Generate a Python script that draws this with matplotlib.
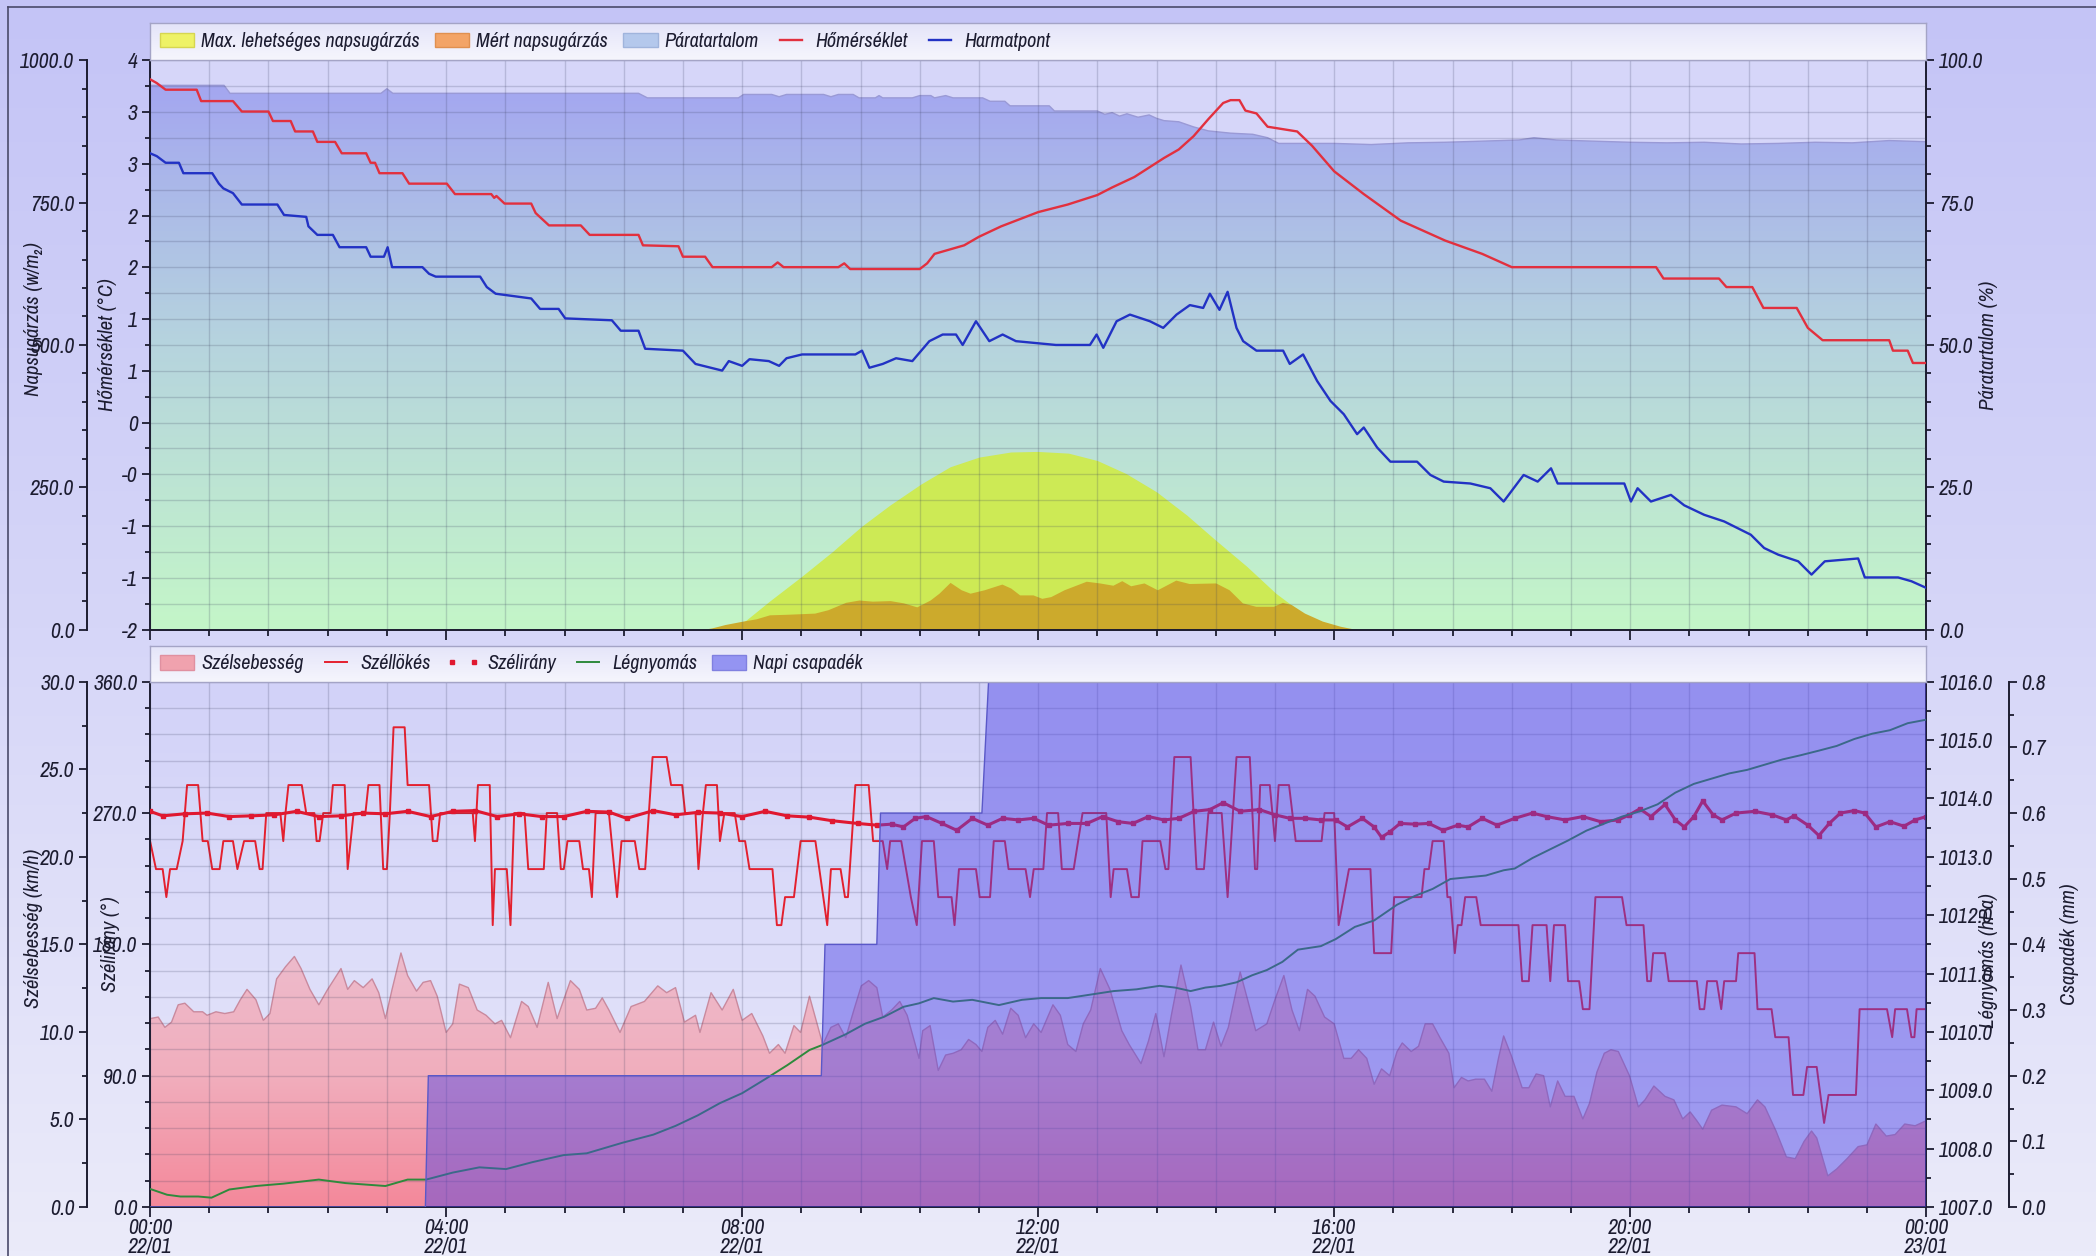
import numpy as np
import matplotlib
matplotlib.use('Agg')
import matplotlib.pyplot as plt
from matplotlib import font_manager
from matplotlib.colors import LinearSegmentedColormap
from matplotlib.lines import Line2D
from matplotlib.patches import Patch
from matplotlib.ticker import FixedLocator, FixedFormatter, MultipleLocator, FormatStrFormatter

# ---------------- data (time = hours since 22/01 00:00) ----------------
temp_pts = [(0.0, 3.80), (0.09, 3.76), (0.21, 3.69), (0.63, 3.69), (0.69, 3.57), (1.12, 3.57), (1.24, 3.46),
            (1.60, 3.46), (1.66, 3.36), (1.90, 3.36), (1.96, 3.25), (2.20, 3.25), (2.26, 3.14), (2.50, 3.14),
            (2.59, 3.02), (2.92, 3.02), (2.98, 2.92), (3.04, 2.92), (3.10, 2.81), (3.41, 2.81), (3.50, 2.70),
            (4.01, 2.70), (4.12, 2.59), (4.61, 2.59), (4.65, 2.55), (4.68, 2.57), (4.79, 2.49), (5.15, 2.49),
            (5.21, 2.39), (5.39, 2.26), (5.82, 2.26), (5.94, 2.16), (6.60, 2.16), (6.66, 2.05), (7.14, 2.04),
            (7.20, 1.93), (7.50, 1.93), (7.60, 1.82), (8.40, 1.82), (8.48, 1.87), (8.56, 1.82), (9.30, 1.82),
            (9.38, 1.86), (9.46, 1.80), (10.40, 1.80), (10.50, 1.86), (10.60, 1.96), (11.00, 2.05), (11.20, 2.14),
            (11.50, 2.25), (11.70, 2.31), (12.00, 2.40), (12.40, 2.48), (12.80, 2.58), (13.00, 2.66), (13.30, 2.77),
            (13.50, 2.87), (13.70, 2.97), (13.90, 3.06), (14.10, 3.20), (14.30, 3.38), (14.50, 3.55), (14.60, 3.58),
            (14.72, 3.58), (14.80, 3.47), (14.95, 3.44), (15.10, 3.30), (15.50, 3.25), (15.70, 3.10), (16.00, 2.83),
            (16.40, 2.59), (16.90, 2.31), (17.50, 2.10), (18.00, 1.96), (18.40, 1.82), (20.35, 1.82), (20.45, 1.70),
            (21.20, 1.70), (21.30, 1.61), (21.65, 1.61), (21.80, 1.39), (22.25, 1.39), (22.40, 1.18), (22.60, 1.05),
            (23.50, 1.05), (23.55, 0.94), (23.75, 0.94), (23.82, 0.81), (24.0, 0.81)]

dew_pts = [(0.0, 3.02), (0.09, 2.99), (0.21, 2.92), (0.39, 2.92), (0.45, 2.81), (0.84, 2.81), (0.93, 2.70),
           (0.99, 2.65), (1.12, 2.60), (1.24, 2.48), (1.72, 2.48), (1.81, 2.37), (2.11, 2.35), (2.14, 2.25),
           (2.26, 2.16), (2.47, 2.16), (2.56, 2.03), (2.92, 2.03), (2.98, 1.93), (3.16, 1.93), (3.21, 2.03),
           (3.27, 1.82), (3.68, 1.82), (3.77, 1.75), (3.86, 1.72), (4.46, 1.72), (4.55, 1.61), (4.67, 1.54),
           (5.15, 1.49), (5.27, 1.38), (5.52, 1.38), (5.61, 1.28), (6.24, 1.26), (6.36, 1.15), (6.60, 1.15),
           (6.69, 0.96), (7.20, 0.94), (7.37, 0.80), (7.73, 0.73), (7.82, 0.83), (8.0, 0.78), (8.1, 0.85),
           (8.36, 0.83), (8.5, 0.78), (8.6, 0.86), (8.81, 0.90), (9.53, 0.90), (9.62, 0.94), (9.72, 0.76),
           (9.9, 0.80), (10.08, 0.86), (10.3, 0.83), (10.53, 1.04), (10.71, 1.11), (10.89, 1.11), (10.98, 1.00),
           (11.16, 1.25), (11.34, 1.04), (11.52, 1.11), (11.70, 1.04), (12.24, 1.00), (12.70, 1.00), (12.79, 1.11),
           (12.88, 0.97), (13.06, 1.25), (13.24, 1.32), (13.51, 1.25), (13.69, 1.18), (13.87, 1.32), (14.05, 1.42),
           (14.23, 1.39), (14.32, 1.54), (14.45, 1.37), (14.56, 1.56), (14.68, 1.18), (14.77, 1.04), (14.95, 0.94),
           (15.31, 0.94), (15.40, 0.80), (15.58, 0.90), (15.77, 0.62), (15.95, 0.41), (16.13, 0.27), (16.31, 0.06),
           (16.40, 0.13), (16.58, -0.08), (16.76, -0.23), (17.12, -0.23), (17.30, -0.37), (17.48, -0.44),
           (17.84, -0.46), (18.11, -0.51), (18.29, -0.65), (18.56, -0.37), (18.75, -0.44), (18.93, -0.30),
           (19.02, -0.46), (19.92, -0.46), (20.01, -0.65), (20.10, -0.51), (20.28, -0.65), (20.55, -0.58),
           (20.73, -0.69), (21.00, -0.79), (21.27, -0.86), (21.63, -1.00), (21.81, -1.14), (22.00, -1.21),
           (22.27, -1.28), (22.45, -1.42), (22.63, -1.28), (23.08, -1.25), (23.17, -1.45), (23.62, -1.45),
           (23.80, -1.49), (24.0, -1.56)]

humidity_pts = [(0.0, 95.6), (1.0, 95.6), (1.08, 94.2), (3.12, 94.2), (3.2, 95.0), (3.28, 94.2), (6.6, 94.2),
                (6.72, 93.4), (7.95, 93.4), (8.02, 94.0), (8.4, 94.0), (8.5, 93.6), (8.6, 94.0), (9.1, 94.0),
                (9.2, 93.6), (9.3, 94.0), (9.5, 94.0), (9.58, 93.4), (9.8, 93.4), (9.85, 93.8), (9.9, 93.4),
                (10.3, 93.4), (10.4, 93.8), (10.55, 93.8), (10.6, 93.4), (10.75, 93.8), (10.85, 93.4), (11.25, 93.4),
                (11.35, 92.8), (11.55, 92.8), (11.62, 92.0), (12.15, 92.0), (12.22, 91.1), (12.8, 91.1), (12.9, 90.5),
                (13.0, 90.8), (13.1, 90.2), (13.2, 90.6), (13.35, 90.0), (13.5, 90.4), (13.6, 89.8), (13.7, 89.4),
                (13.9, 89.2), (14.1, 88.3), (14.3, 87.6), (14.6, 87.2), (14.9, 87.0), (15.1, 86.4), (15.25, 85.4),
                (16.0, 85.4), (16.5, 85.2), (17.0, 85.5), (17.5, 85.6), (18.0, 85.8), (18.5, 86.0), (18.7, 86.4),
                (19.0, 86.0), (19.5, 85.8), (20.0, 85.6), (20.5, 85.5), (21.0, 85.6), (21.5, 85.3), (22.0, 85.4),
                (22.5, 85.6), (23.0, 85.5), (23.5, 85.9), (24.0, 85.7)]

rad_max_pts = [(7.50, 0), (7.59, 2), (8.01, 12), (8.37, 50), (8.80, 93), (9.22, 137), (9.61, 181), (10.0, 219),
               (10.42, 256), (10.81, 286), (11.20, 303), (11.63, 312), (11.99, 313), (12.41, 310), (12.80, 297),
               (13.19, 274), (13.60, 242), (14.01, 201), (14.40, 157), (14.82, 111), (15.21, 64), (15.60, 26),
               (15.84, 9), (16.05, 1), (16.10, 0)]

rad_meas_pts = [(7.45, 0), (7.59, 3), (7.77, 9), (8.01, 15), (8.19, 19), (8.37, 26), (8.61, 27), (8.98, 29),
                (9.16, 35), (9.40, 48), (9.58, 52), (9.76, 50), (10.0, 51), (10.18, 47), (10.36, 40), (10.54, 52),
                (10.66, 64), (10.81, 83), (10.96, 70), (11.08, 64), (11.27, 70), (11.51, 80), (11.63, 73),
                (11.75, 61), (11.93, 61), (12.05, 55), (12.17, 58), (12.35, 70), (12.65, 85), (12.83, 82),
                (13.01, 78), (13.13, 86), (13.25, 77), (13.43, 82), (13.61, 70), (13.86, 87), (14.04, 81),
                (14.40, 82), (14.58, 70), (14.76, 47), (14.94, 41), (15.18, 41), (15.30, 48), (15.42, 44),
                (15.60, 29), (15.84, 15), (16.08, 6), (16.27, 1), (16.35, 0)]

wind_pts = [(0.0, 10.76), (0.11, 10.85), (0.20, 10.26), (0.29, 10.56), (0.38, 11.55), (0.47, 11.64), (0.59, 11.15),
            (0.71, 11.15), (0.77, 10.95), (0.89, 11.15), (1.01, 11.05), (1.13, 11.15), (1.22, 11.84), (1.31, 12.43),
            (1.43, 11.84), (1.53, 10.66), (1.62, 11.05), (1.71, 13.03), (1.83, 13.72), (1.95, 14.31), (2.04, 13.62),
            (2.16, 12.43), (2.28, 11.55), (2.40, 12.43), (2.58, 13.62), (2.67, 12.43), (2.76, 12.93), (2.88, 12.53),
            (3.00, 13.03), (3.09, 12.24), (3.18, 10.76), (3.27, 12.43), (3.39, 14.51), (3.48, 13.22), (3.60, 12.33),
            (3.69, 12.83), (3.79, 12.93), (3.88, 12.04), (4.00, 9.97), (4.09, 10.46), (4.18, 12.73), (4.30, 12.53),
            (4.42, 11.25), (4.54, 10.95), (4.66, 10.46), (4.75, 10.66), (4.87, 9.67), (5.02, 11.74), (5.11, 11.45),
            (5.23, 10.26), (5.38, 12.83), (5.50, 10.76), (5.68, 12.93), (5.80, 12.43), (5.90, 11.25), (6.02, 11.35),
            (6.11, 11.94), (6.20, 11.25), (6.35, 9.97), (6.50, 11.45), (6.68, 11.74), (6.86, 12.63), (6.98, 12.24),
            (7.10, 12.53), (7.22, 10.56), (7.37, 10.95), (7.43, 9.97), (7.58, 12.24), (7.73, 11.25), (7.88, 12.43),
            (8.00, 10.66), (8.13, 11.05), (8.28, 9.77), (8.37, 8.78), (8.49, 9.28), (8.58, 8.78), (8.70, 10.36),
            (8.79, 9.97), (8.91, 12.04), (9.09, 9.28), (9.20, 10.26), (9.30, 10.46), (9.40, 9.67), (9.51, 11.25),
            (9.61, 12.63), (9.71, 12.93), (9.82, 12.53), (9.90, 10.85), (10.02, 11.25), (10.13, 11.74),
            (10.23, 10.95), (10.34, 9.28), (10.39, 8.49), (10.44, 10.07), (10.54, 10.36), (10.65, 7.80),
            (10.75, 8.68), (10.85, 8.78), (10.96, 8.98), (11.06, 9.57), (11.16, 9.28), (11.24, 8.88), (11.32, 10.26),
            (11.42, 10.66), (11.52, 9.87), (11.63, 11.35), (11.73, 10.95), (11.83, 9.67), (11.94, 10.46),
            (12.04, 9.97), (12.20, 11.55), (12.30, 10.95), (12.40, 9.28), (12.51, 8.88), (12.61, 10.46),
            (12.71, 11.25), (12.84, 13.62), (12.97, 12.43), (13.13, 10.07), (13.23, 9.28), (13.39, 8.19),
            (13.49, 9.47), (13.59, 11.05), (13.70, 8.58), (13.80, 10.95), (13.93, 13.82), (14.06, 11.45),
            (14.16, 8.98), (14.26, 8.98), (14.37, 10.56), (14.47, 9.18), (14.57, 10.26), (14.73, 13.42),
            (14.83, 11.84), (14.94, 10.07), (15.09, 10.46), (15.20, 11.84), (15.32, 13.22), (15.43, 11.25),
            (15.53, 10.07), (15.64, 12.43), (15.74, 12.04), (15.87, 10.85), (16.00, 10.46), (16.13, 8.49),
            (16.23, 8.49), (16.33, 8.98), (16.44, 8.49), (16.54, 7.01), (16.64, 7.89), (16.75, 7.50), (16.85, 8.88),
            (16.92, 9.37), (17.04, 8.88), (17.14, 9.18), (17.23, 10.46), (17.33, 10.46), (17.43, 9.67),
            (17.55, 8.78), (17.62, 6.81), (17.72, 7.40), (17.81, 7.20), (17.91, 7.30), (18.03, 7.30), (18.13, 6.61),
            (18.22, 8.49), (18.29, 9.77), (18.39, 8.68), (18.54, 6.81), (18.63, 6.81), (18.73, 7.60), (18.83, 7.50),
            (18.92, 5.72), (19.02, 7.20), (19.12, 6.32), (19.24, 6.32), (19.36, 5.03), (19.45, 5.92), (19.55, 7.70),
            (19.65, 8.78), (19.74, 8.98), (19.84, 8.88), (19.99, 7.50), (20.11, 5.72), (20.20, 6.12), (20.32, 6.91),
            (20.47, 6.32), (20.59, 6.12), (20.71, 5.03), (20.81, 5.43), (20.90, 4.93), (20.98, 4.44), (21.10, 5.53),
            (21.24, 5.82), (21.43, 5.72), (21.58, 5.33), (21.72, 6.12), (21.82, 5.72), (21.97, 4.34), (22.11, 2.86),
            (22.23, 2.76), (22.35, 3.75), (22.45, 4.34), (22.52, 3.95), (22.67, 1.78), (22.79, 2.17), (22.93, 2.76),
            (23.08, 3.45), (23.20, 3.55), (23.32, 4.74), (23.46, 4.05), (23.58, 4.14), (23.71, 4.74), (23.85, 4.64),
            (24.0, 4.93)]

gust_pts = [(0.0, 20.9), (0.08, 19.3), (0.17, 19.3), (0.22, 17.7), (0.27, 19.3), (0.36, 19.3), (0.44, 20.9),
            (0.50, 24.1), (0.65, 24.1), (0.71, 20.9), (0.78, 20.9), (0.84, 19.3), (0.94, 19.3), (0.99, 20.9),
            (1.12, 20.9), (1.18, 19.3), (1.27, 20.9), (1.42, 20.9), (1.48, 19.3), (1.52, 19.3), (1.57, 22.5),
            (1.76, 22.5), (1.80, 20.9), (1.83, 22.5), (1.87, 24.1), (2.05, 24.1), (2.11, 22.5), (2.22, 22.5),
            (2.25, 20.9), (2.29, 20.9), (2.34, 22.5), (2.44, 22.5), (2.47, 24.1), (2.63, 24.1), (2.67, 19.3),
            (2.75, 22.5), (2.91, 22.5), (2.95, 24.1), (3.10, 24.1), (3.15, 19.3), (3.20, 19.3), (3.24, 22.5),
            (3.29, 27.4), (3.44, 27.4), (3.48, 24.1), (3.77, 24.1), (3.82, 20.9), (3.88, 20.9), (3.92, 22.5),
            (4.36, 22.5), (4.39, 20.9), (4.43, 24.1), (4.59, 24.1), (4.63, 16.1), (4.66, 19.3), (4.82, 19.3),
            (4.87, 16.1), (4.92, 22.5), (5.06, 22.5), (5.11, 19.3), (5.32, 19.3), (5.36, 22.5), (5.50, 22.5),
            (5.55, 19.3), (5.59, 19.3), (5.64, 20.9), (5.80, 20.9), (5.85, 19.3), (5.93, 19.3), (5.97, 17.7),
            (6.02, 22.5), (6.20, 22.5), (6.31, 17.7), (6.37, 20.9), (6.55, 20.9), (6.61, 19.3), (6.69, 19.3),
            (6.74, 22.5), (6.79, 25.7), (6.98, 25.7), (7.04, 24.1), (7.19, 24.1), (7.23, 22.5), (7.37, 22.5),
            (7.41, 19.3), (7.47, 22.5), (7.51, 24.1), (7.66, 24.1), (7.70, 20.9), (7.76, 22.5), (7.90, 22.5),
            (7.96, 20.9), (8.04, 20.9), (8.10, 19.3), (8.41, 19.3), (8.47, 16.1), (8.53, 16.1), (8.58, 17.7),
            (8.70, 17.7), (8.79, 20.9), (8.99, 20.9), (9.15, 16.1), (9.20, 19.3), (9.33, 19.3), (9.39, 17.7),
            (9.43, 17.7), (9.53, 24.1), (9.71, 24.1), (9.77, 20.9), (9.90, 20.9), (9.96, 19.3), (10.00, 20.9),
            (10.15, 20.9), (10.28, 17.7), (10.36, 16.1), (10.43, 20.9), (10.59, 20.9), (10.65, 17.7), (10.83, 17.7),
            (10.87, 16.1), (10.93, 19.3), (11.16, 19.3), (11.21, 17.7), (11.35, 17.7), (11.40, 20.9), (11.55, 20.9),
            (11.60, 19.3), (11.83, 19.3), (11.89, 17.7), (11.94, 19.3), (12.07, 19.3), (12.12, 22.5), (12.27, 22.5),
            (12.32, 19.3), (12.48, 19.3), (12.60, 22.5), (12.92, 22.5), (12.98, 17.7), (13.02, 19.3), (13.20, 19.3),
            (13.26, 17.7), (13.36, 17.7), (13.41, 20.9), (13.65, 20.9), (13.72, 19.3), (13.76, 19.3), (13.84, 25.7),
            (14.06, 25.7), (14.14, 19.3), (14.24, 19.3), (14.30, 22.5), (14.48, 22.5), (14.56, 17.7), (14.68, 25.7),
            (14.86, 25.7), (14.93, 19.3), (14.96, 19.3), (15.00, 24.1), (15.13, 24.1), (15.20, 20.9), (15.25, 24.1),
            (15.39, 24.1), (15.48, 20.9), (15.83, 20.9), (15.87, 22.5), (16.00, 22.5), (16.06, 16.1), (16.20, 19.3),
            (16.49, 19.3), (16.54, 14.5), (16.77, 14.5), (16.81, 17.7), (17.18, 17.7), (17.22, 19.3), (17.28, 19.3),
            (17.33, 20.9), (17.48, 20.9), (17.53, 17.7), (17.57, 17.7), (17.63, 14.5), (17.67, 16.1), (17.72, 16.1),
            (17.77, 17.7), (17.92, 17.7), (17.98, 16.1), (18.49, 16.1), (18.54, 12.9), (18.63, 12.9), (18.68, 16.1),
            (18.87, 16.1), (18.92, 12.9), (18.97, 16.1), (19.12, 16.1), (19.16, 12.9), (19.31, 12.9), (19.36, 11.3),
            (19.45, 11.3), (19.53, 17.7), (19.89, 17.7), (19.95, 16.1), (20.18, 16.1), (20.23, 12.9), (20.28, 12.9),
            (20.31, 14.5), (20.47, 14.5), (20.52, 12.9), (20.90, 12.9), (20.94, 11.3), (21.00, 11.3), (21.04, 12.9),
            (21.17, 12.9), (21.23, 11.3), (21.27, 12.9), (21.43, 12.9), (21.46, 14.5), (21.68, 14.5), (21.72, 11.3),
            (21.91, 11.3), (21.96, 9.7), (22.14, 9.7), (22.20, 6.4), (22.34, 6.4), (22.39, 8.0), (22.52, 8.0),
            (22.62, 4.8), (22.68, 6.4), (23.05, 6.4), (23.10, 11.3), (23.47, 11.3), (23.54, 9.7), (23.58, 11.3),
            (23.74, 11.3), (23.80, 9.7), (23.84, 9.7), (23.87, 11.3), (24.0, 11.3)]

direction_pts = [(0.0, 271.2), (0.17, 268.1), (0.47, 269.5), (0.77, 270.0), (1.07, 267.6), (1.37, 268.1),
                 (1.68, 268.8), (1.98, 271.2), (2.28, 267.6), (2.58, 268.1), (2.88, 270.0), (3.18, 269.5),
                 (3.48, 271.2), (3.79, 267.6), (4.09, 271.2), (4.39, 271.7), (4.69, 267.6), (4.99, 269.5),
                 (5.29, 267.6), (5.59, 267.6), (5.90, 271.2), (6.20, 270.7), (6.44, 266.4), (6.80, 271.7),
                 (7.10, 268.8), (7.40, 270.5), (7.70, 270.0), (8.00, 267.6), (8.31, 271.2), (8.61, 268.1),
                 (8.91, 267.2), (9.21, 264.8), (9.56, 262.9), (9.82, 261.7), (10.02, 262.4), (10.18, 260.5),
                 (10.34, 266.4), (10.49, 267.6), (10.70, 262.9), (10.90, 258.2), (11.11, 266.4), (11.32, 261.7),
                 (11.52, 266.4), (11.73, 265.3), (11.94, 266.4), (12.14, 261.7), (12.40, 262.9), (12.66, 262.9),
                 (12.87, 267.6), (13.08, 264.1), (13.28, 262.9), (13.49, 267.6), (13.70, 265.3), (13.90, 266.4),
                 (14.11, 271.2), (14.32, 272.4), (14.50, 277.1), (14.73, 271.2), (14.99, 272.4), (15.20, 268.8),
                 (15.40, 266.4), (15.61, 266.4), (15.82, 265.3), (16.02, 265.3), (16.18, 260.5), (16.38, 266.4),
                 (16.54, 260.5), (16.64, 253.4), (16.75, 257.0), (16.89, 262.9), (17.09, 262.4), (17.28, 262.9),
                 (17.47, 258.2), (17.67, 261.7), (17.81, 260.5), (18.00, 266.4), (18.20, 261.7), (18.44, 266.4),
                 (18.68, 270.0), (18.87, 267.6), (19.12, 265.3), (19.36, 267.6), (19.60, 264.1), (19.84, 265.3),
                 (19.99, 268.8), (20.13, 272.9), (20.28, 267.6), (20.47, 275.9), (20.61, 265.3), (20.73, 260.5),
                 (20.86, 267.6), (20.98, 278.3), (21.12, 268.8), (21.24, 265.3), (21.43, 270.0), (21.68, 271.2),
                 (21.92, 268.8), (22.11, 265.3), (22.21, 268.1), (22.40, 261.7), (22.55, 254.6), (22.69, 262.9),
                 (22.84, 270.0), (23.03, 271.7), (23.17, 270.0), (23.32, 260.5), (23.51, 264.1), (23.70, 261.0),
                 (23.85, 265.3), (24.0, 267.6)]

pressure_pts = [(0.0, 1007.31), (0.23, 1007.21), (0.41, 1007.18), (0.65, 1007.18), (0.83, 1007.16), (1.07, 1007.30),
                (1.43, 1007.36), (1.80, 1007.40), (2.28, 1007.47), (2.64, 1007.41), (3.18, 1007.36), (3.48, 1007.47),
                (3.73, 1007.47), (4.09, 1007.59), (4.45, 1007.68), (4.81, 1007.65), (5.17, 1007.77), (5.59, 1007.89),
                (5.90, 1007.92), (6.38, 1008.10), (6.80, 1008.24), (7.10, 1008.39), (7.40, 1008.57), (7.70, 1008.78),
                (8.00, 1008.95), (8.31, 1009.19), (8.61, 1009.43), (8.91, 1009.69), (9.09, 1009.78), (9.40, 1009.96),
                (9.66, 1010.14), (9.92, 1010.26), (10.18, 1010.43), (10.39, 1010.49), (10.59, 1010.58),
                (10.85, 1010.52), (11.11, 1010.55), (11.47, 1010.46), (11.78, 1010.55), (12.04, 1010.58),
                (12.40, 1010.58), (12.71, 1010.64), (13.02, 1010.70), (13.33, 1010.73), (13.64, 1010.79),
                (13.85, 1010.76), (14.06, 1010.70), (14.26, 1010.76), (14.47, 1010.79), (14.68, 1010.85),
                (14.89, 1010.97), (15.09, 1011.06), (15.30, 1011.20), (15.51, 1011.41), (15.82, 1011.47),
                (16.02, 1011.59), (16.28, 1011.80), (16.54, 1011.91), (16.85, 1012.18), (17.09, 1012.33),
                (17.33, 1012.45), (17.57, 1012.62), (17.81, 1012.65), (18.05, 1012.68), (18.29, 1012.77),
                (18.44, 1012.80), (18.68, 1012.98), (18.92, 1013.13), (19.16, 1013.28), (19.41, 1013.45),
                (19.65, 1013.57), (19.89, 1013.69), (20.13, 1013.78), (20.37, 1013.90), (20.61, 1014.10),
                (20.86, 1014.25), (21.10, 1014.34), (21.34, 1014.43), (21.58, 1014.49), (21.82, 1014.58),
                (22.06, 1014.67), (22.30, 1014.74), (22.55, 1014.82), (22.79, 1014.90), (23.03, 1015.02),
                (23.27, 1015.11), (23.51, 1015.17), (23.75, 1015.29), (24.0, 1015.35)]

precip_pts = [(0.0, 0.0), (3.72, 0.0), (3.76, 0.2), (9.07, 0.2), (9.12, 0.4), (9.82, 0.4), (9.87, 0.6),
              (11.24, 0.6), (11.33, 0.8), (24.0, 0.8)]

temp_tick_labels = ['-2', '-1', '-1', '-0', '0', '1', '1', '2', '2', '3', '3', '4']
x_ticks = [0, 4, 8, 12, 16, 20, 24]
x_tick_labels = ['00:00\n22/01', '04:00\n22/01', '08:00\n22/01', '12:00\n22/01',
                 '16:00\n22/01', '20:00\n22/01', '00:00\n23/01']

legend_top = ['Max. lehetséges napsugárzás', 'Mért napsugárzás', 'Páratartalom', 'Hőmérséklet', 'Harmatpont']
legend_bot = ['Szélsebesség', 'Széllökés', 'Szélirány', 'Légnyomás', 'Napi csapadék']


def xy(pts):
    a = np.array(pts, dtype=float)
    return a[:, 0], a[:, 1]


# ---------------- style ----------------
names = {f.name for f in font_manager.fontManager.ttflist}
fam = next((n for n in ['Liberation Sans Narrow', 'Archivo Narrow', 'Roboto Condensed', 'Asap Condensed']
            if n in names), 'Liberation Sans')
plt.rcParams['font.family'] = [fam, 'DejaVu Sans']
plt.rcParams['font.style'] = 'italic'
ink = '#1c1c30'
grid_kw = dict(color='#3a3e5e', alpha=0.2, lw=1.0)


def grad_fill(ax, x, y, cols, lo, hi, z=1.0, alpha=1.0, edge=None):
    poly = ax.fill_between(x, y, 0, facecolor='none', edgecolor='none', zorder=z)
    cmap = LinearSegmentedColormap.from_list('g', cols)
    im = ax.imshow(np.linspace(0, 1, 256).reshape(-1, 1), cmap=cmap, origin='lower', aspect='auto',
                   extent=[x.min(), x.max(), lo, hi], alpha=alpha, zorder=z, interpolation='bilinear')
    im.set_clip_path(poly.get_paths()[0], transform=ax.transData)
    if edge:
        ax.plot(x, y, color=edge, lw=1.0, zorder=z + 0.1)


def style_y(ax, major, minor, fmt):
    ax.yaxis.set_major_locator(MultipleLocator(major))
    ax.yaxis.set_minor_locator(MultipleLocator(minor))
    ax.yaxis.set_major_formatter(FormatStrFormatter(fmt))
    ax.tick_params(axis='y', which='both', direction='out', colors=ink, labelsize=15.5, width=1.3, pad=3)
    ax.tick_params(axis='y', which='major', length=6)
    ax.tick_params(axis='y', which='minor', length=3.5)


def style_x(ax, labels):
    ax.set_xlim(0, 24)
    ax.xaxis.set_major_locator(FixedLocator(x_ticks))
    ax.xaxis.set_minor_locator(MultipleLocator(0.8))
    ax.tick_params(axis='x', which='both', direction='out', colors=ink, width=1.3, labelsize=15.5, pad=1)
    ax.tick_params(axis='x', which='major', length=7)
    ax.tick_params(axis='x', which='minor', length=4)
    if labels:
        ax.xaxis.set_major_formatter(FixedFormatter(x_tick_labels))
        for lab in ax.get_xticklabels():
            lab.set_linespacing(0.92)
    else:
        ax.tick_params(axis='x', labelbottom=False)


def only_spine(ax, which):
    for s in ax.spines:
        ax.spines[s].set_visible(s in which)
        ax.spines[s].set_color(ink)
        ax.spines[s].set_linewidth(1.4)


def set_ylabel(ax, text, x, y):
    ax.set_ylabel(text, fontsize=15, color=ink)
    ax.yaxis.set_label_coords(x, y)
    ax.yaxis.label.set_va('center')
    ax.yaxis.label.set_ha('center')


fig = plt.figure(figsize=(20.96, 12.56), dpi=100)

# figure background gradient
bg = fig.add_axes([0, 0, 1, 1], zorder=-10)
bg.axis('off')
bg.imshow(np.linspace(0, 1, 256).reshape(-1, 1), origin='lower', aspect='auto', extent=[0, 1, 0, 1],
          cmap=LinearSegmentedColormap.from_list('bg', ['#ebebfa', '#d6d6f8', '#c4c4f6']))
bg.set_xlim(0, 1)
bg.set_ylim(0, 1)
fig.add_artist(Line2D([0.004, 0.004], [0.0, 0.9942], transform=fig.transFigure, color='#4a4a6a', lw=1.2))
fig.add_artist(Line2D([0.004, 1.0], [0.9942, 0.9942], transform=fig.transFigure, color='#4a4a6a', lw=1.2))

L, W = 0.0716, 0.8474
rect_top = [L, 0.4987, W, 0.4533]
rect_bot = [L, 0.0390, W, 0.4182]

# ---------------- top panel ----------------
ax_t = fig.add_axes(rect_top)
ax_rh = ax_t.twinx()
ax_rad = ax_t.twinx()
ax_rh.set_zorder(1)
ax_rad.set_zorder(2)
ax_t.set_zorder(3)
ax_t.patch.set_visible(False)
ax_rh.patch.set_visible(True)
ax_rh.set_facecolor('#d6d6f9')

t, v = xy(humidity_pts)
grad_fill(ax_rh, t, v, ['#c4f6c8', '#b6d4de', '#a2a2f2'], 0, 100, z=1, edge='#9a9ad6')
ax_rh.set_ylim(0, 100)
style_y(ax_rh, 25, 5, '%.1f')
only_spine(ax_rh, ['right'])
set_ylabel(ax_rh, 'Páratartalom (%)', 1.035, 0.5)

t, v = xy(rad_max_pts)
ax_rad.fill_between(t, v, 0, color='#cdea55', lw=0, zorder=2)
t, v = xy(rad_meas_pts)
ax_rad.fill_between(t, v, 0, color='#ccaa2c', lw=0, zorder=3)
ax_rad.set_ylim(0, 1000)
ax_rad.yaxis.tick_left()
ax_rad.yaxis.set_label_position('left')
style_y(ax_rad, 250, 50, '%.1f')
only_spine(ax_rad, ['left'])
ax_rad.spines['left'].set_position(('axes', -0.0355))
set_ylabel(ax_rad, 'Napsugárzás (w/m₂)', -0.0659, 0.545)

t, v = xy(temp_pts)
ax_t.plot(t, v, color='#e2303e', lw=1.7, zorder=4)
t, v = xy(dew_pts)
ax_t.plot(t, v, color='#2232c4', lw=1.7, zorder=4)
ax_t.set_ylim(-2, 4)
ax_t.yaxis.set_major_locator(FixedLocator(np.linspace(-2, 4, 12)))
ax_t.yaxis.set_major_formatter(FixedFormatter(temp_tick_labels))
ax_t.yaxis.set_minor_locator(FixedLocator(np.linspace(-2, 4, 23)))
ax_t.tick_params(axis='y', which='both', direction='out', colors=ink, labelsize=15.5, width=1.3, pad=3)
ax_t.tick_params(axis='y', which='major', length=6)
ax_t.tick_params(axis='y', which='minor', length=3.5)
style_x(ax_t, False)
only_spine(ax_t, ['left', 'bottom'])
ax_t.grid(True, which='both', **grid_kw)
set_ylabel(ax_t, 'Hőmérséklet (°C)', -0.0242, 0.5)
for a in (ax_rh, ax_rad):
    a.set_xlim(0, 24)

# ---------------- bottom panel ----------------
ax_dir = fig.add_axes(rect_bot)
ax_ws = ax_dir.twinx()
ax_p = ax_dir.twinx()
ax_pr = ax_dir.twinx()
ax_ws.set_zorder(1)
ax_dir.set_zorder(2)
ax_p.set_zorder(3)
ax_pr.set_zorder(4)
ax_dir.patch.set_visible(False)

ax_ws.imshow(np.linspace(0, 1, 256).reshape(-1, 1), origin='lower', aspect='auto', extent=[0, 24, 0, 30],
             cmap=LinearSegmentedColormap.from_list('bb', ['#e8e8fb', '#d2d2f8']), zorder=0)
t, v = xy(wind_pts)
grad_fill(ax_ws, t, v, ['#f4889a', '#f1aebd', '#edbccd'], 0, 15, z=1, edge='#c98a9e')
t, v = xy(gust_pts)
ax_ws.plot(t, v, color='#e4202e', lw=1.4, zorder=3)
ax_ws.set_ylim(0, 30)
ax_ws.yaxis.tick_left()
ax_ws.yaxis.set_label_position('left')
style_y(ax_ws, 5, 2.5, '%.1f')
only_spine(ax_ws, ['left'])
ax_ws.spines['left'].set_position(('axes', -0.0355))
set_ylabel(ax_ws, 'Szélsebesség (km/h)', -0.0659, 0.53)

t, v = xy(direction_pts)
ax_dir.plot(t, v, color='#e01830', lw=2.2, marker='s', ms=3.2, zorder=4)
ax_dir.set_ylim(0, 360)
style_y(ax_dir, 90, 18, '%.1f')
style_x(ax_dir, True)
only_spine(ax_dir, ['left', 'bottom'])
ax_dir.grid(True, which='both', **grid_kw)
set_ylabel(ax_dir, 'Szélirány (°)', -0.0225, 0.5)

t, v = xy(pressure_pts)
ax_p.plot(t, v, color='#2e8a3c', lw=1.4, zorder=3)
ax_p.set_ylim(1007, 1016)
style_y(ax_p, 1, 0.5, '%.1f')
only_spine(ax_p, ['right'])
set_ylabel(ax_p, 'Légnyomás (hPa)', 1.035, 0.47)

t, v = xy(precip_pts)
ax_pr.fill_between(t, v, 0, facecolor='#4c42e6', alpha=0.46, lw=0, zorder=2)
ax_pr.plot(t, v, color='#5a58c8', lw=1.0, zorder=3)
ax_pr.set_ylim(0, 0.8)
style_y(ax_pr, 0.1, 0.05, '%.1f')
only_spine(ax_pr, ['right'])
ax_pr.spines['right'].set_position(('axes', 1.0467))
set_ylabel(ax_pr, 'Csapadék (mm)', 1.0805, 0.5)
for a in (ax_ws, ax_p, ax_pr):
    a.set_xlim(0, 24)


# ---------------- legend bands ----------------
def band(rect, handles, labels):
    b = fig.add_axes(rect, zorder=5)
    b.imshow(np.linspace(0, 1, 64).reshape(-1, 1), origin='lower', aspect='auto', extent=[0, 1, 0, 1],
             cmap=LinearSegmentedColormap.from_list('lb', ['#f6f6fd', '#e4e4f9']))
    b.set_xlim(0, 1)
    b.set_ylim(0, 1)
    b.set_xticks([])
    b.set_yticks([])
    for s in b.spines.values():
        s.set_color('#a4a4c6')
        s.set_linewidth(1.0)
    b.legend(handles, labels, loc='center left', ncol=5, frameon=False, fontsize=14.5,
             handlelength=1.7, handleheight=0.75, handletextpad=0.35, columnspacing=0.75,
             borderaxespad=0.1, numpoints=2, labelcolor=ink)


band([L, 0.952, W, 0.030],
     [Patch(facecolor='#eef266', edgecolor='#d6d650'), Patch(facecolor='#f3a467', edgecolor='#e09050'),
      Patch(facecolor='#b4c8ec', edgecolor='#a0b4dc'), Line2D([], [], color='#e2303e', lw=1.7),
      Line2D([], [], color='#2232c4', lw=1.7)], legend_top)
band([L, 0.4572, W, 0.0288],
     [Patch(facecolor='#f0a2ae', edgecolor='#e090a0'), Line2D([], [], color='#e4202e', lw=1.4),
      Line2D([], [], color='#e01830', ls='none', marker='s', ms=2.5), Line2D([], [], color='#2e8a3c', lw=1.4),
      Patch(facecolor='#9494f2', edgecolor='#8080e0')], legend_bot)

fig.savefig('out.png', dpi=100)
